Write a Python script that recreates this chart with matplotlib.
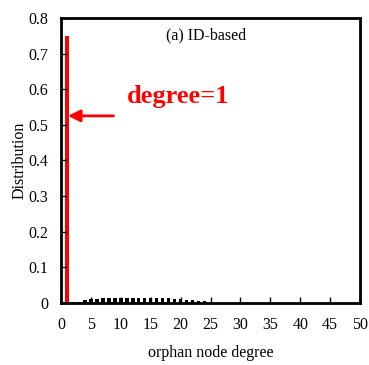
import matplotlib.pyplot as plt
import numpy as np

plt.rcParams['font.family'] = ['Liberation Serif', 'DejaVu Serif']

degrees = np.arange(1, 26)
dist = [0.75, 0.003, 0.004, 0.007, 0.010, 0.012, 0.014, 0.015, 0.015, 0.015,
        0.015, 0.015, 0.015, 0.015, 0.015, 0.015, 0.014, 0.013, 0.012, 0.011,
        0.009, 0.008, 0.006, 0.005, 0.003]
colors = ['red'] + ['black'] * (len(degrees) - 1)

fig = plt.figure(figsize=(3.69, 3.65), dpi=100)
ax = fig.add_axes([0.165, 0.170, 0.811, 0.781])
ax.bar(degrees, dist, width=0.6, color=colors)

ax.set_xlim(0, 50)
ax.set_ylim(0, 0.8)
ax.set_xticks(np.arange(0, 51, 5))
ax.set_yticks(np.arange(0, 0.81, 0.1))
ax.set_yticklabels(['0', '0.1', '0.2', '0.3', '0.4', '0.5', '0.6', '0.7', '0.8'])
ax.tick_params(direction='in', labelsize=11.5, length=4, width=1)
ax.tick_params(axis='x', pad=10)
ax.tick_params(axis='y', pad=9)
for s in ax.spines.values():
    s.set_linewidth(2)

ax.set_xlabel('orphan node degree', fontsize=11.5, labelpad=9)
ax.set_ylabel('Distribution', fontsize=11.5, labelpad=1)

ax.text(24.3, 0.752, '(a) ID-based', fontsize=11.5, ha='center', va='center')
ax.text(11, 0.58, 'degree=1', fontsize=19, fontweight='bold', color='red',
        va='center')
ax.annotate('', xy=(1.2, 0.525), xytext=(8.8, 0.525),
            arrowprops=dict(arrowstyle='-|>', color='red', lw=2,
                            mutation_scale=18, shrinkA=0, shrinkB=0))

plt.savefig('out.png', dpi=100)
